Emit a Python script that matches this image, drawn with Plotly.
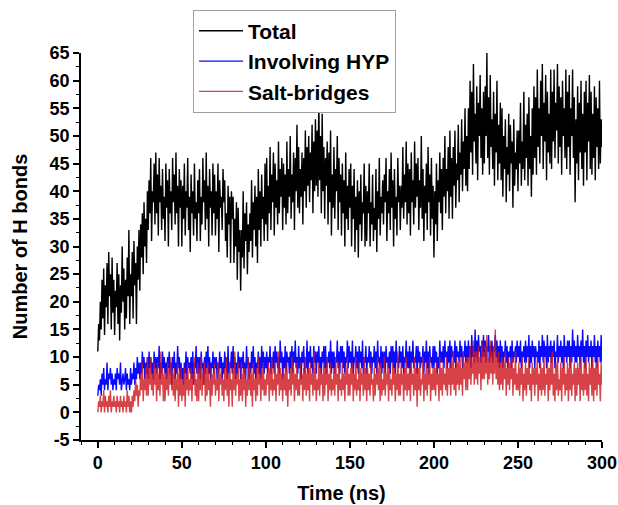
import plotly.graph_objects as go

# Total number of H bonds (0.5 ns spacing)
total = [
    11, 16, 13, 20, 15, 24, 17, 26, 14, 23,
    19, 27, 16, 29, 21, 25, 15, 28, 18, 24,
    14, 22, 19, 27, 16, 25, 13, 23, 18, 30,
    20, 26, 15, 24, 17, 28, 21, 33, 16, 25,
    21, 29, 17, 31, 23, 27, 16, 30, 24, 33,
    22, 34, 28, 36, 25, 38, 30, 35, 27, 40,
    33, 42, 36, 46, 31, 40, 38, 45, 34, 47,
    36, 43, 32, 46, 38, 41, 33, 44, 35, 39,
    31, 45, 37, 42, 30, 44, 36, 40, 33, 46,
    38, 43, 34, 47, 36, 41, 30, 44, 37, 42,
    30, 41, 35, 45, 32, 40, 37, 46, 33, 39,
    29, 43, 36, 40, 32, 45, 35, 38, 31, 42,
    36, 44, 31, 39, 34, 46, 38, 42, 33, 47,
    35, 41, 30, 44, 37, 40, 32, 45, 36, 43,
    32, 40, 35, 45, 29, 42, 37, 39, 33, 44,
    38, 42, 31, 36, 28, 41, 34, 39, 27, 40,
    35, 39, 27, 35, 30, 38, 24, 37, 29, 33,
    22, 33, 28, 40, 26, 36, 31, 38, 25, 34,
    29, 36, 31, 42, 28, 38, 33, 41, 30, 39,
    27, 44, 33, 40, 30, 43, 35, 39, 31, 45,
    34, 46, 31, 41, 36, 48, 33, 43, 38, 47,
    32, 45, 37, 42, 34, 49, 36, 44, 39, 46,
    33, 45, 37, 43, 34, 49, 36, 44, 39, 50,
    35, 43, 38, 47, 33, 46, 40, 52, 37, 48,
    36, 44, 39, 47, 34, 46, 40, 51, 37, 48,
    41, 50, 38, 47, 42, 52, 36, 49, 40, 53,
    41, 51, 39, 57, 42, 50, 36, 54, 40, 48,
    35, 46, 41, 49, 34, 47, 38, 51, 32, 43,
    37, 48, 35, 44, 40, 50, 33, 46, 38, 43,
    32, 45, 36, 42, 30, 47, 35, 41, 33, 44,
    37, 45, 30, 41, 35, 44, 29, 39, 33, 42,
    28, 40, 34, 43, 31, 38, 36, 45, 30, 41,
    31, 40, 36, 45, 30, 38, 34, 43, 31, 37,
    33, 44, 29, 40, 35, 46, 32, 39, 36, 42,
    34, 43, 38, 46, 31, 40, 36, 44, 33, 47,
    37, 42, 30, 44, 35, 39, 32, 46, 38, 41,
    33, 41, 37, 48, 35, 43, 38, 49, 34, 45,
    36, 44, 32, 47, 38, 42, 34, 49, 37, 45,
    39, 46, 33, 42, 37, 50, 35, 44, 31, 41,
    36, 45, 33, 48, 38, 43, 32, 46, 35, 41,
    28, 40, 34, 45, 31, 42, 38, 47, 36, 44,
    33, 46, 39, 50, 36, 44, 40, 48, 35, 51,
    39, 46, 35, 48, 41, 51, 37, 45, 42, 52,
    38, 47, 43, 53, 40, 49, 44, 55, 41, 50,
    40, 55, 44, 60, 47, 58, 43, 63, 49, 54,
    45, 59, 42, 56, 50, 61, 46, 55, 43, 58,
    45, 59, 50, 65, 46, 57, 43, 61, 48, 53,
    44, 58, 41, 54, 47, 60, 42, 52, 45, 56,
    42, 55, 39, 50, 44, 53, 38, 48, 43, 54,
    40, 52, 45, 49, 37, 53, 41, 47, 44, 51,
    40, 51, 45, 56, 41, 49, 44, 58, 42, 52,
    46, 54, 41, 57, 44, 50, 39, 55, 43, 59,
    46, 57, 43, 62, 48, 55, 45, 60, 50, 63,
    44, 56, 49, 61, 42, 58, 47, 54, 45, 62,
    44, 58, 49, 62, 46, 56, 51, 63, 45, 59,
    48, 57, 43, 60, 50, 55, 46, 62, 44, 58,
    48, 61, 43, 55, 50, 62, 46, 57, 38, 53,
    45, 59, 42, 56, 47, 60, 44, 54, 41, 58,
    47, 60, 42, 56, 49, 61, 44, 58, 43, 54,
    46, 59, 42, 57, 48, 55, 44, 60, 45, 53,
    48,
]

# H bonds involving HYP
involving_hyp = [
    3, 5, 4, 6, 3, 7, 5, 8, 4, 6,
    5, 9, 4, 7, 6, 8, 5, 7, 4, 6,
    5, 7, 4, 8, 6, 7, 5, 9, 4, 6,
    7, 5, 6, 8, 4, 7, 5, 6, 4, 8,
    5, 7, 6, 9, 5, 8, 6, 10, 7, 9,
    6, 9, 7, 11, 8, 10, 6, 9, 7, 10,
    6, 11, 8, 10, 7, 9, 6, 11, 8, 10,
    7, 10, 8, 12, 6, 9, 7, 11, 8, 10,
    7, 9, 6, 10, 8, 11, 7, 9, 5, 10,
    8, 11, 6, 9, 7, 12, 8, 10, 6, 9,
    6, 8, 5, 9, 7, 11, 6, 10, 8, 9,
    7, 10, 6, 11, 5, 9, 8, 12, 7, 10,
    7, 10, 6, 11, 8, 9, 5, 10, 7, 11,
    8, 12, 7, 10, 6, 9, 8, 11, 7, 10,
    8, 10, 6, 9, 7, 11, 8, 10, 6, 9,
    7, 11, 8, 10, 6, 12, 7, 9, 8, 11,
    7, 12, 8, 10, 6, 9, 7, 11, 8, 10,
    6, 10, 8, 11, 7, 9, 6, 12, 8, 10,
    6, 9, 7, 11, 8, 12, 7, 10, 6, 9,
    8, 11, 7, 10, 6, 12, 8, 11, 7, 10,
    8, 11, 7, 10, 9, 12, 7, 10, 8, 11,
    7, 12, 9, 11, 8, 10, 7, 13, 9, 11,
    6, 10, 8, 12, 7, 11, 9, 10, 7, 11,
    8, 12, 7, 11, 9, 13, 8, 10, 7, 12,
    8, 10, 6, 11, 9, 12, 7, 10, 8, 13,
    7, 11, 9, 12, 8, 10, 7, 12, 9, 11,
    7, 11, 9, 12, 8, 10, 7, 11, 9, 12,
    8, 12, 7, 10, 9, 11, 8, 13, 7, 11,
    8, 11, 7, 10, 9, 13, 8, 11, 7, 12,
    9, 12, 8, 11, 7, 10, 9, 13, 8, 12,
    9, 11, 8, 13, 7, 10, 9, 12, 8, 11,
    7, 12, 9, 11, 8, 13, 7, 10, 9, 12,
    7, 10, 9, 12, 8, 11, 7, 10, 9, 12,
    8, 11, 7, 13, 9, 10, 8, 12, 7, 11,
    8, 11, 7, 12, 9, 10, 8, 11, 7, 12,
    9, 12, 8, 11, 7, 13, 9, 10, 8, 12,
    9, 11, 8, 12, 7, 10, 9, 13, 8, 11,
    8, 12, 7, 11, 9, 13, 8, 10, 9, 12,
    7, 12, 9, 11, 8, 10, 9, 12, 7, 11,
    9, 13, 8, 11, 7, 12, 9, 10, 8, 12,
    8, 12, 9, 11, 7, 10, 8, 13, 9, 11,
    9, 12, 8, 13, 10, 11, 8, 12, 9, 13,
    8, 12, 10, 11, 9, 13, 8, 12, 10, 11,
    9, 13, 10, 12, 8, 11, 10, 13, 9, 12,
    9, 13, 10, 12, 8, 14, 10, 12, 9, 15,
    10, 13, 9, 14, 11, 12, 9, 13, 10, 14,
    10, 13, 9, 12, 11, 14, 9, 12, 10, 13,
    9, 12, 11, 14, 10, 13, 9, 12, 8, 13,
    9, 12, 8, 11, 10, 13, 9, 12, 8, 11,
    10, 12, 8, 13, 9, 11, 10, 12, 9, 13,
    10, 12, 9, 13, 8, 11, 10, 12, 9, 13,
    9, 12, 10, 14, 8, 12, 9, 13, 10, 12,
    8, 12, 10, 11, 9, 13, 8, 12, 10, 14,
    9, 13, 10, 12, 8, 14, 9, 12, 10, 13,
    9, 12, 10, 13, 8, 11, 10, 14, 9, 12,
    10, 13, 9, 12, 8, 14, 10, 12, 9, 13,
    10, 13, 8, 12, 9, 15, 10, 13, 9, 12,
    9, 14, 10, 12, 8, 13, 10, 15, 9, 12,
    8, 13, 10, 14, 9, 12, 10, 13, 8, 12,
    10, 14, 9, 12, 8, 13, 10, 12, 9, 14,
    9,
]

# Salt-bridges
salt_bridges = [
    0, 2, 1, 3, 0, 2, 1, 4, 0, 3,
    1, 2, 0, 3, 1, 4, 0, 2, 1, 3,
    1, 2, 0, 3, 1, 2, 0, 3, 1, 2,
    0, 3, 1, 2, 0, 4, 1, 3, 0, 2,
    0, 3, 1, 4, 2, 6, 3, 5, 1, 4,
    3, 7, 4, 9, 2, 6, 4, 8, 3, 10,
    3, 8, 5, 10, 4, 7, 3, 9, 5, 8,
    2, 9, 4, 7, 3, 11, 5, 8, 2, 7,
    2, 7, 4, 9, 3, 8, 5, 10, 4, 7,
    3, 8, 2, 6, 4, 9, 1, 7, 3, 8,
    2, 6, 3, 8, 1, 7, 4, 9, 3, 6,
    4, 8, 2, 7, 5, 10, 3, 6, 2, 9,
    2, 8, 4, 10, 3, 7, 5, 9, 2, 8,
    3, 9, 4, 6, 1, 8, 3, 7, 5, 9,
    3, 6, 4, 9, 2, 7, 5, 8, 3, 6,
    2, 8, 4, 10, 3, 7, 1, 9, 4, 6,
    1, 8, 4, 11, 3, 7, 5, 9, 2, 6,
    3, 9, 2, 7, 4, 8, 1, 6, 3, 10,
    4, 8, 3, 7, 1, 9, 4, 6, 2, 8,
    3, 10, 5, 7, 2, 8, 4, 9, 3, 6,
    3, 7, 5, 9, 2, 8, 4, 10, 3, 6,
    4, 9, 2, 7, 5, 11, 3, 8, 4, 7,
    2, 8, 4, 7, 3, 9, 1, 6, 4, 8,
    3, 10, 5, 8, 2, 7, 4, 9, 3, 6,
    3, 9, 5, 7, 2, 8, 4, 10, 3, 7,
    4, 8, 2, 9, 5, 7, 3, 11, 4, 8,
    2, 6, 4, 9, 3, 8, 5, 7, 2, 9,
    3, 8, 5, 10, 2, 7, 4, 9, 3, 6,
    4, 8, 3, 10, 5, 7, 2, 9, 4, 6,
    3, 9, 4, 7, 2, 8, 5, 10, 3, 7,
    3, 8, 5, 9, 2, 7, 4, 10, 3, 6,
    4, 9, 2, 8, 5, 7, 3, 10, 4, 8,
    2, 8, 4, 7, 3, 9, 5, 6, 2, 8,
    3, 7, 5, 10, 4, 8, 2, 9, 3, 6,
    4, 10, 3, 7, 5, 9, 2, 8, 4, 6,
    3, 9, 5, 8, 2, 7, 4, 11, 3, 7,
    3, 9, 5, 7, 2, 8, 4, 10, 3, 7,
    4, 8, 2, 9, 5, 7, 3, 10, 4, 8,
    1, 8, 4, 9, 3, 6, 5, 10, 2, 7,
    4, 9, 3, 8, 5, 10, 2, 7, 4, 8,
    4, 8, 3, 9, 5, 7, 2, 10, 4, 8,
    3, 9, 5, 7, 4, 10, 3, 8, 5, 9,
    3, 9, 5, 11, 4, 8, 3, 10, 5, 9,
    4, 10, 5, 8, 3, 11, 6, 9, 4, 10,
    4, 10, 6, 12, 5, 9, 7, 13, 5, 11,
    6, 11, 5, 12, 7, 10, 4, 13, 6, 11,
    6, 12, 7, 14, 5, 10, 6, 13, 7, 11,
    5, 12, 7, 15, 6, 10, 5, 11, 4, 9,
    5, 10, 4, 9, 6, 11, 3, 8, 5, 10,
    4, 9, 6, 10, 3, 8, 5, 11, 4, 7,
    4, 9, 3, 8, 5, 10, 2, 7, 4, 9,
    3, 8, 5, 10, 4, 7, 2, 9, 5, 8,
    3, 8, 5, 10, 2, 7, 4, 9, 3, 8,
    4, 10, 3, 7, 5, 9, 2, 8, 4, 10,
    5, 11, 3, 7, 2, 9, 4, 10, 3, 6,
    4, 9, 2, 8, 5, 10, 3, 7, 4, 9,
    2, 8, 4, 10, 3, 7, 5, 9, 2, 8,
    3, 9, 5, 8, 2, 10, 4, 7, 3, 9,
    4, 10, 3, 7, 2, 9, 5, 8, 3, 10,
    2, 8, 4, 9, 3, 10, 5, 7, 2, 9,
    5,
]

# Time points (ns), 0.5 ns sampling
time_ns = [0.5 * i for i in range(601)]

series_names = ["Total", "Involving HYP", "Salt-bridges"]
x_tickvals = [0, 50, 100, 150, 200, 250, 300]
y_tickvals = [-5, 0, 5, 10, 15, 20, 25, 30, 35, 40, 45, 50, 55, 60, 65]
y_ticktext = ["-5", "0", "5", "10", "15", "20", "25", "30", "35", "40", "45", "50", "55", "60", "65"]

FONT = "Liberation Sans, Arial, sans-serif"

fig = go.Figure()
fig.add_trace(go.Scatter(x=time_ns[:len(total)], y=total, mode="lines", name=series_names[0],
                         line=dict(color="black", width=1.4)))
fig.add_trace(go.Scatter(x=time_ns[:len(involving_hyp)], y=involving_hyp, mode="lines", name=series_names[1],
                         line=dict(color="#0a0aff", width=1.4)))
fig.add_trace(go.Scatter(x=time_ns[:len(salt_bridges)], y=salt_bridges, mode="lines", name=series_names[2],
                         line=dict(color="rgba(205,25,30,0.82)", width=1.4)))

axis_common = dict(
    showline=True, linecolor="black", linewidth=1.5,
    ticks="outside", ticklen=6, tickwidth=1.5, tickcolor="black",
    showgrid=False, zeroline=False, mirror=False,
    tickfont=dict(family=FONT, size=18, color="black", weight="bold"),
)

fig.update_xaxes(
    range=[-10, 300], tickvals=x_tickvals,
    minor=dict(dtick=10, ticks="outside", ticklen=3, tickwidth=1.2, tickcolor="black"),
    title=dict(text="Time (ns)", font=dict(family=FONT, size=20, color="black", weight="bold"), standoff=14),
    **axis_common,
)
fig.update_yaxes(
    range=[-5, 65], tickvals=y_tickvals, ticktext=y_ticktext,
    minor=dict(dtick=2.5, ticks="outside", ticklen=3, tickwidth=1.2, tickcolor="black"),
    title=dict(text="Number of H bonds", font=dict(family=FONT, size=20, color="black", weight="bold"), standoff=17),
    **axis_common,
)

fig.update_layout(
    width=618, height=505,
    margin=dict(l=81, r=16, t=53, b=65, autoexpand=False),
    paper_bgcolor="white", plot_bgcolor="white",
    showlegend=True,
    legend=dict(
        x=0.215, y=1.112, xanchor="left", yanchor="top",
        bgcolor="white", bordercolor="#a0a0a0", borderwidth=1,
        font=dict(family=FONT, size=21, color="black", weight="bold"),
        tracegroupgap=0, itemwidth=44,
    ),
)

fig.write_html(
    "out.html",
    config={"displayModeBar": False},
    post_script="document.body.style.margin='0';document.body.style.overflow='hidden';",
)
